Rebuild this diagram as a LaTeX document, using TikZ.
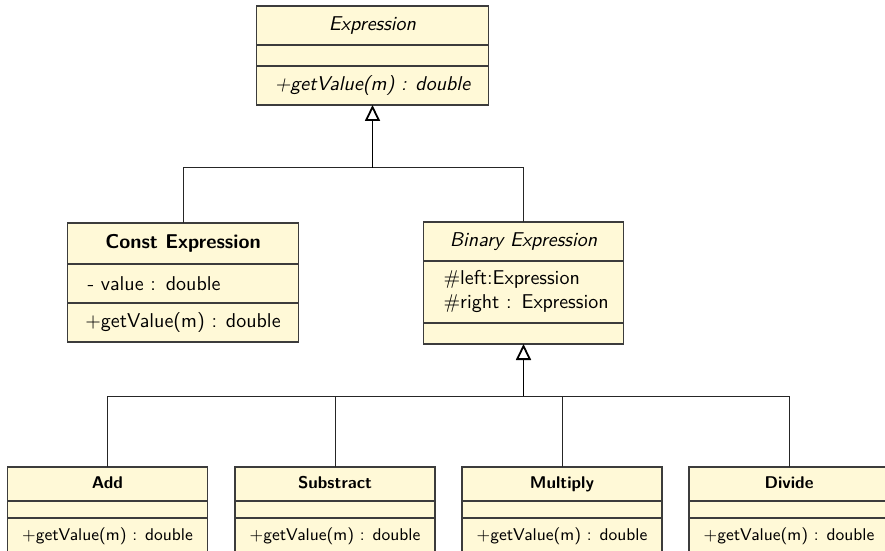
\documentclass[tikz,border=0pt]{standalone}
\usetikzlibrary{positioning, arrows.meta}
\definecolor{classfill}{RGB}{255,249,215}
\definecolor{classline}{RGB}{60,60,60}
\tikzstyle{part} = [draw=classline,line width=0.6pt,fill=classfill,inner sep=0pt,outer sep=0pt,font=\sffamily]
\tikzstyle{big_part} = [part,font=\sffamily\fontsize{10}{12}\selectfont]
\tikzstyle{small_part} = [part,font=\sffamily\fontsize{8.5}{10}\selectfont,minimum width=100pt,text height=6.5pt,text depth=2pt]
\tikzstyle{attr_list} = [align=left,inner xsep=10pt]
\tikzstyle{branch} = [draw=black!85,line width=0.5pt]
\tikzstyle{inherit} = [line width=0.9pt,-{Triangle[open,length=8pt,width=7.5pt]}]

\begin{document}
\begin{tikzpicture}[x=0.5pt,y=-0.5pt]
  \useasboundingbox (0,0) rectangle (885,551);
  % abstract base class
  \node (exprT) [big_part,anchor=north,minimum width=116pt,minimum height=19.5pt] at (372.5,6) {\itshape Expression};
  \node (exprA) [big_part,below=0pt of exprT,minimum width=116pt,minimum height=10.5pt] {};
  \node (exprM) [big_part,below=0pt of exprA,minimum width=116pt,minimum height=19.5pt] {\itshape +getValue(m) : double};
  % constant
  \node (constT) [big_part,anchor=north,minimum width=115.5pt,minimum height=20.5pt] at (183,223) {\bfseries Const Expression};
  \node (constA) [big_part,attr_list,below=0pt of constT,text width=95.5pt,minimum height=19.5pt] {- value : double};
  \node (constM) [big_part,below=0pt of constA,minimum width=115.5pt,minimum height=19.5pt] {+getValue(m) : double};
  % binary
  \node (binT) [big_part,anchor=north,minimum width=100pt,minimum height=19.5pt] at (523.5,222) {\itshape Binary Expression};
  \node (binA) [big_part,attr_list,below=0pt of binT,text width=80pt,minimum height=31pt] {\mbox{\#left:Expression}\\\mbox{\#right : Expression}};
  \node (binM) [big_part,below=0pt of binA,minimum width=100pt,minimum height=10.5pt] {};
  % operators
  \node (addT) [small_part,anchor=north,minimum height=17pt] at (107.5,467) {\bfseries Add};
  \node (addA) [small_part,below=0pt of addT,minimum height=8.5pt] {};
  \node (addM) [small_part,below=0pt of addA,minimum height=18pt] {+getValue(m) : double};
  \node (subT) [small_part,anchor=north,minimum height=17pt] at (335,467) {\bfseries Substract};
  \node (subA) [small_part,below=0pt of subT,minimum height=8.5pt] {};
  \node (subM) [small_part,below=0pt of subA,minimum height=18pt] {+getValue(m) : double};
  \node (mulT) [small_part,anchor=north,minimum height=17pt] at (562,467) {\bfseries Multiply};
  \node (mulA) [small_part,below=0pt of mulT,minimum height=8.5pt] {};
  \node (mulM) [small_part,below=0pt of mulA,minimum height=18pt] {+getValue(m) : double};
  \node (divT) [small_part,anchor=north,minimum height=17pt] at (789,467) {\bfseries Divide};
  \node (divA) [small_part,below=0pt of divT,minimum height=8.5pt] {};
  \node (divM) [small_part,below=0pt of divA,minimum height=18pt] {+getValue(m) : double};
  % generalisation
  \coordinate (topjoin) at (372.5,168);
  \coordinate (botjoin) at (523.5,396);
  \draw [branch] (constT.north) |- (topjoin);
  \draw [branch] (binT.north) |- (topjoin);
  \draw [inherit] (topjoin) -- (exprM.south);
  \draw [branch] (addT.north) |- (botjoin);
  \draw [branch] (subT.north) |- (botjoin);
  \draw [branch] (mulT.north) |- (botjoin);
  \draw [branch] (divT.north) |- (botjoin);
  \draw [inherit] (botjoin) -- (binM.south);
\end{tikzpicture}
\end{document}
